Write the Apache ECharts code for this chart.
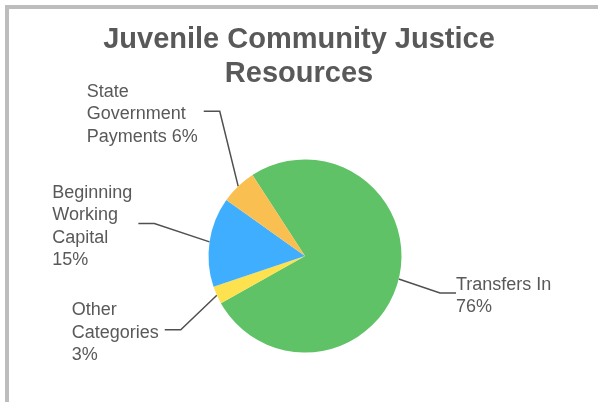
<!DOCTYPE html>
<html>
<head>
<meta charset="utf-8">
<title>Juvenile Community Justice Resources</title>
<script src="https://cdn.jsdelivr.net/npm/echarts@6/dist/echarts.min.js"></script>
<style>
  html, body { margin: 0; padding: 0; background: #ffffff; }
  #chart { position: absolute; left: 0; top: 0; width: 598px; height: 402px; }
  #edge {
    position: absolute; left: 5px; top: 5px; right: 0; bottom: 0;
    border-left: 4px solid #bdbdbd; border-top: 4px solid #bdbdbd;
    pointer-events: none;
  }
</style>
</head>
<body>
<div id="chart"></div>
<div id="edge"></div>
<script>
// Resource categories, in drawing order (clockwise)
const categories = ['Transfers In', 'Other Categories', 'Beginning Working Capital', 'State Government Payments'];
// Share of total resources, percent
const shares = [76, 3, 15, 6];
// Wrapped label text; {d} becomes the slice percentage
const labelTemplates = [
  'Transfers In\n{d}%',
  'Other\nCategories\n{d}%',
  'Beginning\nWorking\nCapital\n{d}%',
  'State\nGovernment\nPayments {d}%'
];
const sliceColors = ['#60c267', '#fee14e', '#40aeff', '#f9bf50'];

// Layout: pie geometry and top-left corners of the label blocks
const PIE_CENTER = [305, 256];
const PIE_RADIUS = 96.5;
const labelSpots = [[456, 273.5], [71.7, 299], [52.3, 181.5], [86.7, 80.5]];
const LEADER_RUN = 16;   // horizontal part of each leader line
const LEADER_GAP = 6;    // space between a left-side label and its leader

const chart = echarts.init(document.getElementById('chart'), null, { renderer: 'canvas' });

chart.setOption({
  animation: false,
  backgroundColor: 'transparent',
  title: {
    text: 'Juvenile Community Justice\nResources',
    left: 'center',
    top: 23,
    padding: [0, 0, 0, 10],
    textStyle: {
      fontFamily: 'Liberation Sans, Arial, sans-serif',
      fontSize: 29,
      fontWeight: 'bold',
      color: '#595959',
      lineHeight: 34
    }
  },
  tooltip: { show: false },
  series: [{
    type: 'pie',
    center: PIE_CENTER,
    radius: PIE_RADIUS,
    startAngle: 123,
    clockwise: true,
    avoidLabelOverlap: false,
    percentPrecision: 0,
    silent: true,
    itemStyle: { borderWidth: 0 },
    emphasis: { disabled: true },
    label: {
      show: true,
      position: 'outside',
      fontFamily: 'Liberation Sans, Arial, sans-serif',
      fontSize: 18,
      lineHeight: 22.5,
      color: '#595959',
      formatter: function (p) {
        return labelTemplates[p.dataIndex].replace('{d}', Math.round(p.percent));
      }
    },
    labelLine: {
      show: true,
      length: 15,
      length2: 15,
      lineStyle: { color: '#505050', width: 1.5 }
    },
    labelLayout: function (p) {
      const spot = labelSpots[p.dataIndex];
      const w = p.labelRect.width;
      const h = p.labelRect.height;
      const onLeft = spot[0] + w / 2 < PIE_CENTER[0];
      const joinY = spot[1] + h / 2 - 3;
      const endX = onLeft ? spot[0] + w + LEADER_GAP : spot[0];
      const turnX = onLeft ? endX + LEADER_RUN : endX - LEADER_RUN;
      const start = p.labelLinePoints ? p.labelLinePoints[0] : [turnX, joinY];
      return {
        x: spot[0],
        y: spot[1],
        align: 'left',
        verticalAlign: 'top',
        labelLinePoints: [start, [turnX, joinY], [endX, joinY]]
      };
    },
    data: categories.map(function (name, i) {
      return { name: name, value: shares[i], itemStyle: { color: sliceColors[i] } };
    })
  }]
});
</script>
</body>
</html>
